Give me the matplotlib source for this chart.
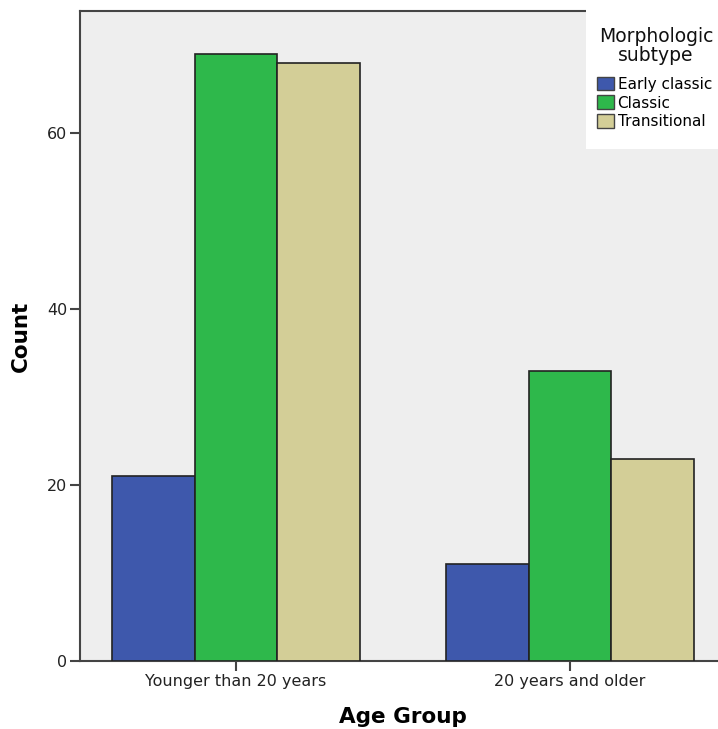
import matplotlib
matplotlib.use("Agg")
import matplotlib.pyplot as plt
from matplotlib.patches import Patch, Rectangle
import numpy as np

groups = ["Younger than 20 years", "20 years and older"]
subtypes = ["Early classic", "Classic", "Transitional"]
early_classic = [21, 11]
classic = [69, 33]
transitional = [68, 23]
yticks = [0, 20, 40, 60]

colors = ["#3e58ac", "#2eb84b", "#d3ce97"]
edge = "#222222"

W, H = 718, 729
fig = plt.figure(figsize=(W/100, H/100), dpi=100)
ax = fig.add_axes([80/W, 68/H, 646/W, 650/H])
ax.set_facecolor("#eeeeee")

x = np.arange(len(groups))
w = 0.248
series = [early_classic, classic, transitional]
for i, (vals, c, lab) in enumerate(zip(series, colors, subtypes)):
    ax.bar(x + (i - 1) * w, vals, width=w, color=c, edgecolor=edge, linewidth=1.2, label=lab, zorder=3)

ax.set_xlim(-0.467, 1.467)
ax.set_ylim(0, 73.9)
ax.set_yticks(yticks)
ax.set_xticks(x)
ax.set_xticklabels(groups)
ax.tick_params(axis="both", direction="out", length=7.5, width=1.5, color="#444444", labelsize=11.5, labelcolor="#222222")
ax.tick_params(axis="y", pad=1.5)
ax.tick_params(axis="x", pad=2)
for s in ["left", "bottom", "top"]:
    ax.spines[s].set_color("#444444")
    ax.spines[s].set_linewidth(1.5)
ax.spines["right"].set_visible(False)

ax.set_ylabel("Count", fontsize=15.5, fontweight="bold", labelpad=12)
ax.set_xlabel("Age Group", fontsize=15.5, fontweight="bold", labelpad=13)

# legend background panel
ax.add_patch(Rectangle(((586-80)/646, (661-149)/650), 0.3, 1.0, transform=ax.transAxes,
                       facecolor="white", edgecolor="none", zorder=4, clip_on=False))

fig.text(656/W, 1 - 46/H, "Morphologic\nsubtype", ha="center", va="center",
         multialignment="center", fontsize=13.5, linespacing=1.03, color="#111111", zorder=6)

handles = [Patch(facecolor=c, edgecolor="#444444", linewidth=1.0, label=l) for c, l in zip(colors, subtypes)]
leg = fig.legend(handles=handles, loc="center left",
                 bbox_to_anchor=(597/W, 1 - 103/H), bbox_transform=fig.transFigure,
                 fontsize=11, frameon=False,
                 handlelength=1.1, handleheight=1.0, handletextpad=0.25, labelspacing=0.25,
                 borderaxespad=0, borderpad=0)
leg.set_zorder(6)

fig.savefig("out.png", dpi=100)
